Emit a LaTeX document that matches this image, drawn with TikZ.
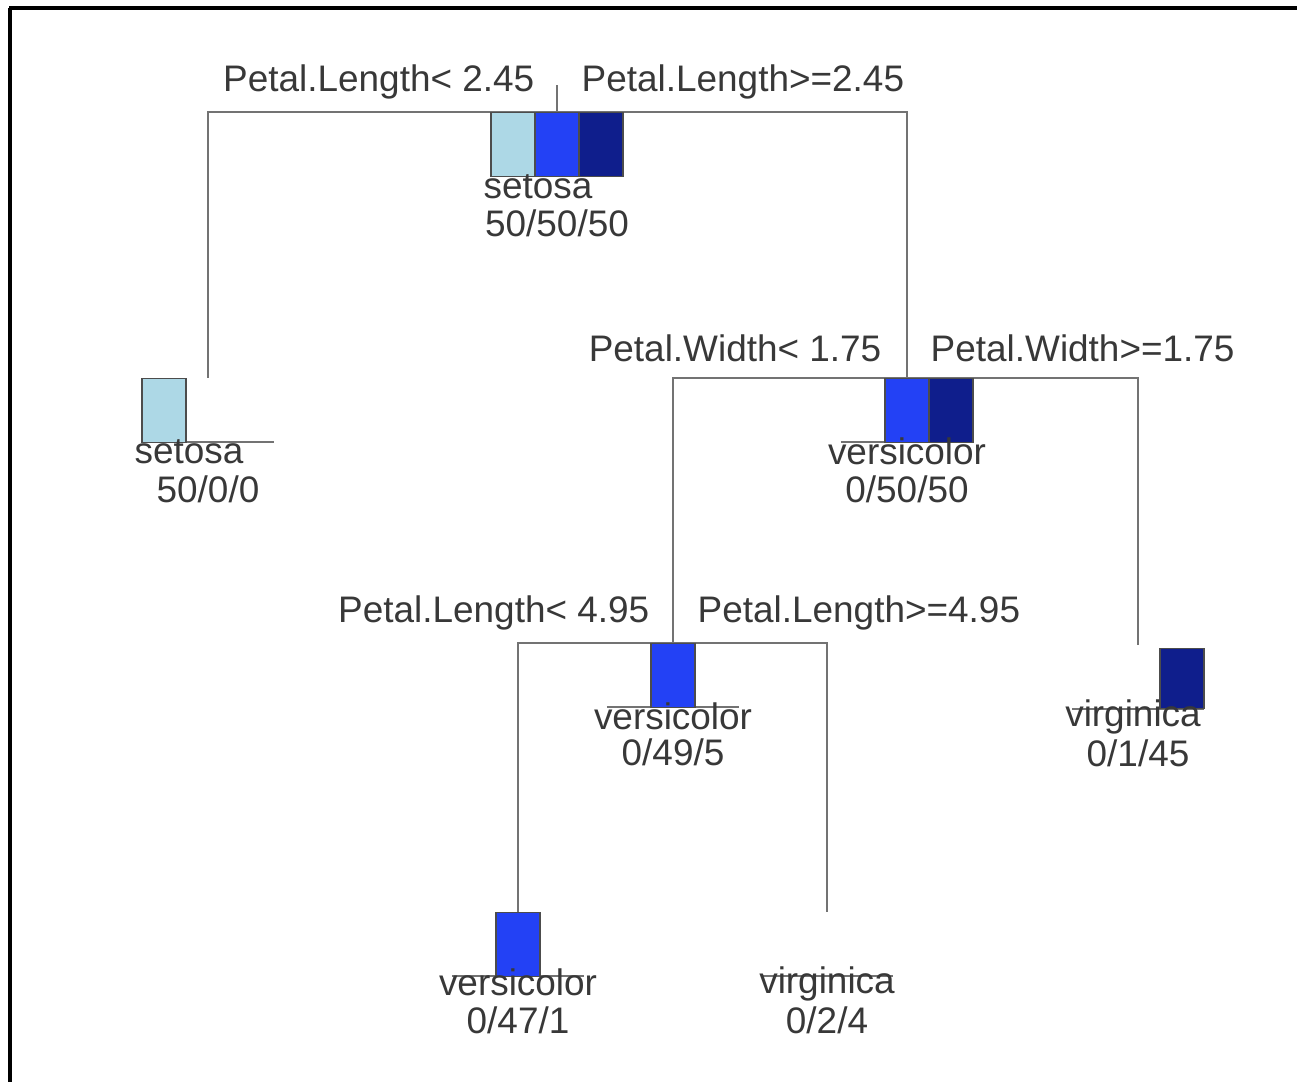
\documentclass[tikz,border=0pt]{standalone}
\usepackage{fontspec}
\setmainfont{Liberation Sans}
\usetikzlibrary{positioning}
\definecolor{setosacol}{RGB}{173,216,230}
\definecolor{versicol}{RGB}{35,65,245}
\definecolor{virgicol}{RGB}{15,30,140}
\tikzset{
  edge/.style  = {draw=black!55, line width=0.6pt},
  bar/.style   = {draw=black!70, line width=0.4pt, anchor=north, inner sep=0pt,
                  minimum width=0.44cm, minimum height=0.64cm},
  cls/.style   = {font=\fontsize{10.5}{12}\selectfont, text=black!78, inner sep=0pt},
  frame/.style = {line width=0.9pt}
}

\begin{document}
\begin{tikzpicture}[x=0.01cm, y=-0.01cm]
  \useasboundingbox (0,0) rectangle (1297,1082);
  \draw[frame] (9,8) -- (1297,8);
  \draw[frame] (10,8) -- (10,1082);

  % tree nodes (top of the bar area)
  \coordinate (root) at (557,112);
  \coordinate (stub) at (557,85);
  \coordinate (seto) at (208,378);
  \coordinate (pw)   at (907,378);
  \coordinate (pl)   at (673,643);
  \coordinate (virg) at (1138,645);
  \coordinate (vers) at (518,912);
  \coordinate (mix)  at (827,912);

  \draw[edge] (root) -- (stub);
  \draw[edge] (root) -| (seto);
  \draw[edge] (root) -| (pw);
  \draw[edge] (pw) -| (pl);
  \draw[edge] (pw) -| (virg);
  \draw[edge] (pl) -| (vers);
  \draw[edge] (pl) -| (mix);

  % split labels
  \node[cls, anchor=east] (r-l) at ([xshift=-0.22cm, yshift=0.30cm]root) {Petal.Length< 2.45};
  \node[cls, anchor=west] (r-r) at ([xshift=0.24cm, yshift=0.30cm]root) {Petal.Length>=2.45};
  \node[cls, anchor=east] (w-l) at ([xshift=-0.25cm, yshift=0.30cm]pw) {Petal.Width< 1.75};
  \node[cls, anchor=west] (w-r) at ([xshift=0.23cm, yshift=0.30cm]pw) {Petal.Width>=1.75};
  \node[cls, anchor=east] (p-l) at ([xshift=-0.23cm, yshift=0.30cm]pl) {Petal.Length< 4.95};
  \node[cls, anchor=west] (p-r) at ([xshift=0.24cm, yshift=0.30cm]pl) {Petal.Length>=4.95};

  % base lines
  \foreach \n in {root,seto,pw,pl,virg,vers,mix}
    \draw[edge] ([xshift=-0.66cm, yshift=-0.64cm]\n) -- ([xshift=0.66cm, yshift=-0.64cm]\n);

  % class bars
  \node[bar, fill=setosacol] (root-a) at ([xshift=-0.44cm]root) {};
  \node[bar, fill=versicol]  (root-b) at (root) {};
  \node[bar, fill=virgicol]  (root-c) at ([xshift=0.44cm]root) {};
  \node[bar, fill=setosacol] (seto-a) at ([xshift=-0.44cm]seto) {};
  \node[bar, fill=versicol]  (pw-b)   at (pw) {};
  \node[bar, fill=virgicol]  (pw-c)   at ([xshift=0.44cm]pw) {};
  \node[bar, fill=versicol]  (pl-b)   at (pl) {};
  \node[bar, fill=virgicol, minimum height=0.6cm] (virg-c) at ([xshift=0.44cm, yshift=-0.03cm]virg) {};
  \node[bar, fill=versicol]  (vers-b) at (vers) {};

  % class names and counts
  \node[cls] (root-n) at ([xshift=-0.19cm, yshift=-0.75cm]root) {setosa};
  \node[cls] (root-k) at ([yshift=-1.11cm]root) {50/50/50};
  \node[cls] (seto-n) at ([xshift=-0.19cm, yshift=-0.74cm]seto) {setosa};
  \node[cls] (seto-k) at ([yshift=-1.11cm]seto) {50/0/0};
  \node[cls] (pw-n)   at ([yshift=-0.73cm]pw) {versicolor};
  \node[cls] (pw-k)   at ([yshift=-1.11cm]pw) {0/50/50};
  \node[cls] (pl-n)   at ([yshift=-0.73cm]pl) {versicolor};
  \node[cls] (pl-k)   at ([yshift=-1.09cm]pl) {0/49/5};
  \node[cls] (virg-n) at ([xshift=-0.05cm, yshift=-0.72cm]virg) {virginica};
  \node[cls] (virg-k) at ([yshift=-1.08cm]virg) {0/1/45};
  \node[cls] (vers-n) at ([yshift=-0.70cm]vers) {versicolor};
  \node[cls] (vers-k) at ([yshift=-1.08cm]vers) {0/47/1};
  \node[cls] (mix-n)  at ([yshift=-0.72cm]mix) {virginica};
  \node[cls] (mix-k)  at ([yshift=-1.08cm]mix) {0/2/4};
\end{tikzpicture}
\end{document}
